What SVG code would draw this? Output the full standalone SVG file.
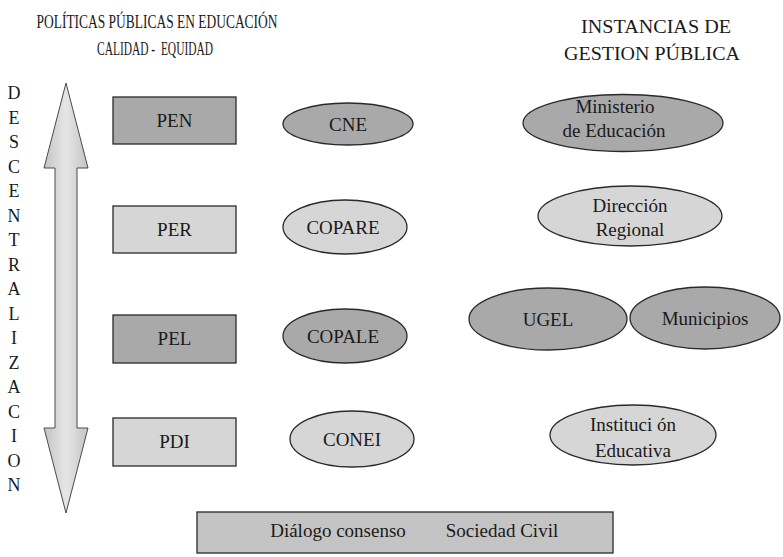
<svg xmlns="http://www.w3.org/2000/svg" width="783" height="557" viewBox="0 0 783 557">
<style>
text{font-family:"Liberation Serif","DejaVu Serif",serif;fill:#1a1a1a;text-anchor:middle}
.t{font-size:19px}
.n{font-size:19px}
.l{font-size:18px}
.dark{fill:#a9a9a9;stroke:#2a2a2a;stroke-width:1.3}
.light{fill:#d6d6d6;stroke:#2a2a2a;stroke-width:1.3}
</style>
<defs>
<linearGradient id="ag" x1="0" y1="0" x2="1" y2="0">
<stop offset="0" stop-color="#c4c4c4"/>
<stop offset="0.5" stop-color="#e6e6e6"/>
<stop offset="1" stop-color="#c4c4c4"/>
</linearGradient>
</defs>
<rect width="783" height="557" fill="#ffffff"/>
<g id="titles">
<text class="t" x="157" y="28" textLength="241" lengthAdjust="spacingAndGlyphs">POLÍTICAS PÚBLICAS EN EDUCACIÓN</text>
<text class="t" x="155" y="55" textLength="116" lengthAdjust="spacingAndGlyphs" xml:space="preserve">CALIDAD -  EQUIDAD</text>
<text class="t" x="656" y="33" textLength="150" lengthAdjust="spacingAndGlyphs">INSTANCIAS DE</text>
<text class="t" x="652" y="60" textLength="176" lengthAdjust="spacingAndGlyphs">GESTION PÚBLICA</text>
</g>
<g id="descentralizacion" class="l">
<text x="14" y="99">D</text>
<text x="14" y="123.5">E</text>
<text x="14" y="148">S</text>
<text x="14" y="172.5">C</text>
<text x="14" y="197">E</text>
<text x="14" y="221.5">N</text>
<text x="14" y="246">T</text>
<text x="14" y="270.5">R</text>
<text x="14" y="295">A</text>
<text x="14" y="319.5">L</text>
<text x="14" y="344">I</text>
<text x="14" y="368.5">Z</text>
<text x="14" y="393">A</text>
<text x="14" y="417.5">C</text>
<text x="14" y="442">I</text>
<text x="14" y="466.5">O</text>
<text x="14" y="491">N</text>
</g>
<g id="arrow">
<polygon points="66,83 88,168 77,168 77,428 88,428 66,513 44,428 55,428 55,168 44,168" fill="url(#ag)" stroke="#4a4a4a" stroke-width="1"/>
</g>
<g id="PEN"><rect class="dark" x="113" y="97" width="123" height="47"/><text class="n" x="174.5" y="127">PEN</text></g>
<g id="PER"><rect class="light" x="113" y="206" width="123" height="47"/><text class="n" x="174.5" y="236">PER</text></g>
<g id="PEL"><rect class="dark" x="113" y="315" width="123" height="48"/><text class="n" x="174.5" y="345">PEL</text></g>
<g id="PDI"><rect class="light" x="113" y="418" width="123" height="48"/><text class="n" x="174.5" y="448">PDI</text></g>
<g id="CNE"><ellipse class="dark" cx="348" cy="124" rx="65" ry="21"/><text class="n" x="348" y="131">CNE</text></g>
<g id="COPARE"><ellipse class="light" cx="345" cy="227" rx="62" ry="27"/><text class="n" x="343" y="234">COPARE</text></g>
<g id="COPALE"><ellipse class="dark" cx="345" cy="336" rx="62" ry="27"/><text class="n" x="343" y="343">COPALE</text></g>
<g id="CONEI"><ellipse class="light" cx="352" cy="439" rx="62" ry="28"/><text class="n" x="352" y="446">CONEI</text></g>
<g id="ministerio"><ellipse class="dark" cx="623" cy="123" rx="100" ry="28.5"/><text class="n" x="615" y="113">Ministerio</text><text class="n" x="614" y="137">de Educación</text></g>
<g id="direccion"><ellipse class="light" cx="630" cy="216" rx="92" ry="30"/><text class="n" x="630" y="212">Dirección</text><text class="n" x="630" y="236">Regional</text></g>
<g id="UGEL"><ellipse class="dark" cx="548" cy="319" rx="79" ry="31"/><text class="n" x="548" y="326">UGEL</text></g>
<g id="municipios"><ellipse class="dark" cx="705" cy="318" rx="75" ry="31"/><text class="n" x="705" y="325">Municipios</text></g>
<g id="institucion"><ellipse class="light" cx="633" cy="435" rx="83" ry="30"/><text class="n" x="633" y="431" xml:space="preserve">Instituci ón</text><text class="n" x="633" y="457">Educativa</text></g>
<g id="sociedad"><rect x="197" y="512" width="416" height="41" fill="#c4c4c4" stroke="#2a2a2a" stroke-width="1.3"/><text class="n" x="338" y="537">Diálogo consenso</text><text class="n" x="502" y="537">Sociedad Civil</text></g>
<g id="connectors"></g>
</svg>
